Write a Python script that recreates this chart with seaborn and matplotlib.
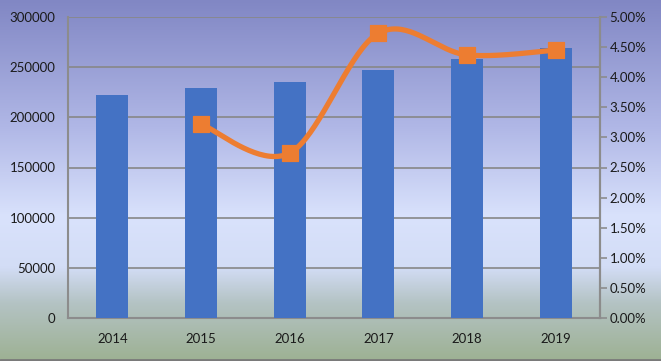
import numpy as np
import pandas as pd
import seaborn as sns
from matplotlib import pyplot as plt
from matplotlib.colors import LinearSegmentedColormap
from matplotlib.ticker import PercentFormatter, MultipleLocator

years = ['2014', '2015', '2016', '2017', '2018', '2019']
values = [222000, 229000, 235000, 247000, 258000, 269000]
growth_years = ['2015', '2016', '2017', '2018', '2019']
growth = [3.22, 2.74, 4.73, 4.37, 4.45]

sns.set_style('white')
plt.rcParams['font.family'] = ['Lato', 'DejaVu Sans']

fig = plt.figure(figsize=(6.61, 3.61), dpi=100)

# gradient background like the office chart fill
bg = fig.add_axes([0, 0, 1, 1], zorder=-5)
cmap = LinearSegmentedColormap.from_list('bgfill', [
    (0.0, '#8187c4'), (0.35, '#b0b7e6'), (0.6, '#d9e2fc'),
    (0.74, '#d3ddf6'), (0.84, '#b4c3c4'), (1.0, '#9db193')])
grad = np.linspace(0, 1, 256).reshape(-1, 1)
bg.imshow(grad, aspect='auto', cmap=cmap, extent=[0, 1, 0, 1], origin='upper')
bg.axhline(0.003, color='#7a7a7a', lw=2)
bg.set_axis_off()

ax = fig.add_axes([68/661, 43/361, 532/661, 301/361])
ax.patch.set_alpha(0)
df = pd.DataFrame({'year': years, 'value': values})
sns.barplot(data=df, x='year', y='value', color='#4472C4', width=0.36,
            saturation=1, linewidth=0, ax=ax, zorder=3)
ax.set_ylim(0, 300000)
ax.set_xlim(-0.5, 5.5)
ax.yaxis.set_major_locator(MultipleLocator(50000))
ax.grid(axis='y', color='#878787', lw=1.2, zorder=0)
ax.set_axisbelow(True)
ax.set_xlabel('')
ax.set_ylabel('')
for s in ['top']:
    ax.spines[s].set_visible(False)
for s in ['left', 'bottom', 'right']:
    ax.spines[s].set_color('#8c8c8c')
    ax.spines[s].set_linewidth(1.5)
ax.tick_params(axis='both', length=0, labelsize=9.5, colors='#1a1a1a')
ax.tick_params(axis='y', pad=9)
ax.tick_params(axis='x', pad=11)

# smoothed growth line (bezier smoothing through the points)
ax2 = ax.twinx()
ax2.patch.set_alpha(0)
px = np.array([years.index(y) for y in growth_years], dtype=float)
py = np.array(growth)
sx, sy = [], []
n = len(px)
for i in range(n - 1):
    p0 = (px[max(i-1, 0)], py[max(i-1, 0)])
    p1 = (px[i], py[i])
    p2 = (px[i+1], py[i+1])
    p3 = (px[min(i+2, n-1)], py[min(i+2, n-1)])
    c1 = (p1[0] + (p2[0]-p0[0])/6, p1[1] + (p2[1]-p0[1])/6)
    c2 = (p2[0] - (p3[0]-p1[0])/6, p2[1] - (p3[1]-p1[1])/6)
    t = np.linspace(0, 1, 40)
    for a, b, c, d, out in [(p1[0], c1[0], c2[0], p2[0], sx), (p1[1], c1[1], c2[1], p2[1], sy)]:
        out.extend((1-t)**3*a + 3*(1-t)**2*t*b + 3*(1-t)*t**2*c + t**3*d)
sm = pd.DataFrame({'x': sx, 'y': sy})
sns.lineplot(data=sm, x='x', y='y', color='#ED7D31', lw=3.8, ax=ax2, sort=False, zorder=4)
pts = pd.DataFrame({'x': px, 'y': py})
sns.scatterplot(data=pts, x='x', y='y', marker='s', s=120, color='#ED7D31',
                edgecolor='#ED7D31', ax=ax2, zorder=5)
ax2.set_ylim(0, 5)
ax2.set_xlim(-0.5, 5.5)
ax2.yaxis.set_major_locator(MultipleLocator(0.5))
ax2.yaxis.set_major_formatter(PercentFormatter(decimals=2))
ax2.set_xlabel('')
ax2.set_ylabel('')
for s in ['top', 'left', 'bottom']:
    ax2.spines[s].set_visible(False)
ax2.spines['right'].set_color('#8c8c8c')
ax2.spines['right'].set_linewidth(1.5)
ax2.tick_params(axis='y', length=5, width=1.2, color='#8c8c8c', labelsize=9.5,
                labelcolor='#1a1a1a', pad=2, direction='out')

fig.savefig('out.png', dpi=100)
